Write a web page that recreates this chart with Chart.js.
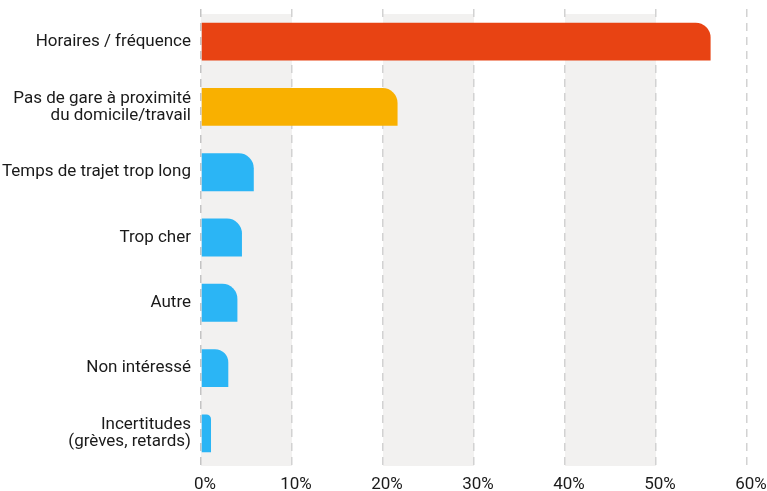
<!DOCTYPE html>
<html>
<head>
<meta charset="utf-8">
<script src="https://cdn.jsdelivr.net/npm/chart.js@4"></script>
<style>
  html, body { margin: 0; padding: 0; background: #fff; }
  #wrap { width: 767px; height: 491px; }
</style>
</head>
<body>
<div id="wrap"><canvas id="canvas"></canvas></div>
<script>
// raisons de ne pas prendre le train
var categories = [
  'Horaires / fréquence',
  ['Pas de gare à proximité', 'du domicile/travail'],
  'Temps de trajet trop long',
  'Trop cher',
  'Autre',
  'Non intéressé',
  ['Incertitudes', '(grèves, retards)']
];
var values = [56.0, 21.6, 5.8, 4.5, 4.0, 3.0, 1.1];
var barColors = ['#e84313', '#f9b000', '#2bb5f5', '#2bb5f5', '#2bb5f5', '#2bb5f5', '#2bb5f5'];
var tickValues = [0, 10, 20, 30, 40, 50, 60];

// bandes grises 0-10, 20-30, 40-50
var bands = {
  id: 'bands',
  beforeDraw: function(chart) {
    var ctx = chart.ctx, x = chart.scales.x, a = chart.chartArea;
    ctx.save();
    ctx.fillStyle = '#f2f1f0';
    for (var i = 0; i < tickValues.length - 1; i += 2) {
      var x0 = x.getPixelForValue(tickValues[i]);
      var x1 = x.getPixelForValue(tickValues[i + 1]);
      ctx.fillRect(x0, a.top + 5, x1 - x0, a.bottom - a.top - 5);
    }
    ctx.restore();
  }
};

var font = { family: 'Roboto', size: 17 };

new Chart(document.getElementById('canvas'), {
  type: 'bar',
  data: {
    labels: categories,
    datasets: [{
      data: values,
      backgroundColor: barColors,
      borderRadius: { topRight: 15 },
      borderSkipped: 'start',
      barPercentage: 0.58,
      categoryPercentage: 1
    }]
  },
  options: {
    indexAxis: 'y',
    responsive: true,
    maintainAspectRatio: false,
    animation: false,
    layout: { padding: { top: 9, right: 20, left: 0, bottom: 0 } },
    plugins: { legend: { display: false }, tooltip: { enabled: false } },
    scales: {
      x: {
        min: 0,
        max: 60,
        afterBuildTicks: function(s) { s.ticks = tickValues.map(function(v) { return { value: v }; }); },
        afterFit: function(s) { s.height = 25; s.paddingRight = 0; },
        grid: {
          color: function(c) { return c.tick && c.tick.value === 0 ? '#c4c4c4' : '#d2d2d2'; },
          lineWidth: 1.5,
          drawTicks: false
        },
        border: { display: false, dash: [8, 6] },
        ticks: {
          color: '#1a1a1a',
          font: font,
          padding: 9,
          labelOffset: 4,
          callback: function(v) { return v + '%'; }
        }
      },
      y: {
        afterFit: function(s) { s.width = 201; s.paddingTop = 0; s.paddingBottom = 0; },
        grid: { display: false, drawTicks: false },
        border: { display: false },
        ticks: { color: '#1a1a1a', font: { family: 'Roboto', size: 17, lineHeight: 1.0 }, padding: 10 }
      }
    }
  },
  plugins: [bands]
});
</script>
</body>
</html>
